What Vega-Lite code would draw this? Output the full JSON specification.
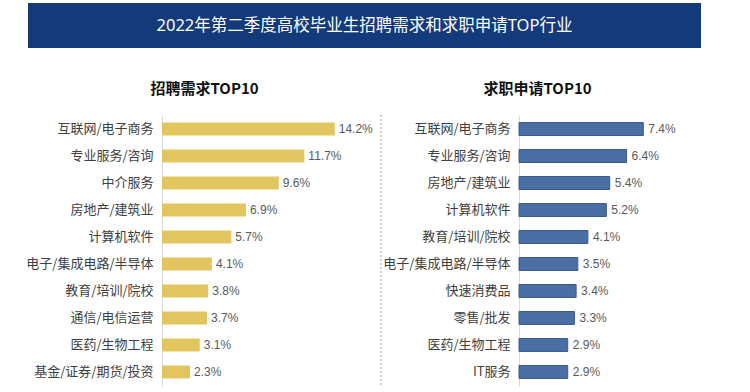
{
  "$schema": "https://vega.github.io/schema/vega-lite/v6.json",
  "padding": {"left": 25, "top": 3, "right": 0, "bottom": 0},
  "background": "white",
  "config": {
    "view": {"stroke": null},
    "axisY": {"title": null, "ticks": false, "domainColor": "#d9d9d9", "labelFont": "Noto Sans CJK SC", "labelFontSize": 13, "labelColor": "#404040", "labelPadding": 9, "grid": false},
    "title": {"font": "Noto Sans CJK SC", "fontSize": 15, "fontWeight": "bold", "color": "#111111", "frame": "group", "anchor": "middle", "offset": 18}
  },
  "vconcat": [
    {
      "width": 673,
      "height": 45,
      "view": {"fill": "#133a7a", "stroke": null},
      "data": {"values": [{"title": "2022年第二季度高校毕业生招聘需求和求职申请TOP行业"}]},
      "mark": {"type": "text", "color": "white", "font": "Noto Sans, Noto Sans CJK SC, sans-serif", "fontSize": 16.5, "fontWeight": "normal"},
      "encoding": {"text": {"field": "title"}}
    },
    {
      "hconcat": [
        {
          "title": "招聘需求TOP10",
          "width": 353,
          "height": 271,
          "data": {"values": [
            {"industry": "互联网/电子商务", "share": 0.142},
            {"industry": "专业服务/咨询", "share": 0.117},
            {"industry": "中介服务", "share": 0.096},
            {"industry": "房地产/建筑业", "share": 0.069},
            {"industry": "计算机软件", "share": 0.057},
            {"industry": "电子/集成电路/半导体", "share": 0.041},
            {"industry": "教育/培训/院校", "share": 0.038},
            {"industry": "通信/电信运营", "share": 0.037},
            {"industry": "医药/生物工程", "share": 0.031},
            {"industry": "基金/证券/期货/投资", "share": 0.023}
          ]},
          "encoding": {
            "y": {"field": "industry", "type": "nominal", "sort": null, "scale": {"paddingInner": 0.52, "paddingOuter": 0.28}, "axis": {"offset": -134}},
            "x": {"field": "share", "type": "quantitative", "scale": {"domain": [0, 0.18], "range": [134, 353]}, "axis": null}
          },
          "layer": [
            {"mark": {"type": "bar", "color": "#e2c55f"}},
            {"mark": {"type": "text", "align": "left", "dx": 4, "font": "Liberation Sans", "fontSize": 12, "color": "#595959"}, "encoding": {"text": {"field": "share", "format": ".1%"}}},
            {"mark": {"type": "rule", "color": "#cfcfcf", "strokeDash": [2, 2]}, "encoding": {"x": {"datum": 0.18}, "y": null}}
          ]
        },
        {
          "title": "求职申请TOP10",
          "width": 299,
          "height": 271,
          "data": {"values": [
            {"industry": "互联网/电子商务", "share": 0.074},
            {"industry": "专业服务/咨询", "share": 0.064},
            {"industry": "房地产/建筑业", "share": 0.054},
            {"industry": "计算机软件", "share": 0.052},
            {"industry": "教育/培训/院校", "share": 0.041},
            {"industry": "电子/集成电路/半导体", "share": 0.035},
            {"industry": "快速消费品", "share": 0.034},
            {"industry": "零售/批发", "share": 0.033},
            {"industry": "医药/生物工程", "share": 0.029},
            {"industry": "IT服务", "share": 0.029}
          ]},
          "encoding": {
            "y": {"field": "industry", "type": "nominal", "sort": null, "scale": {"paddingInner": 0.52, "paddingOuter": 0.28}, "axis": {"offset": -131}},
            "x": {"field": "share", "type": "quantitative", "scale": {"domain": [0, 0.1], "range": [131, 299]}, "axis": null}
          },
          "layer": [
            {"mark": {"type": "bar", "color": "#4a6fa5", "stroke": "#3a5a8a", "strokeWidth": 1}},
            {"mark": {"type": "text", "align": "left", "dx": 5, "font": "Liberation Sans", "fontSize": 12, "color": "#595959"}, "encoding": {"text": {"field": "share", "format": ".1%"}}}
          ]
        }
      ],
      "spacing": 0
    }
  ],
  "spacing": 33
}
